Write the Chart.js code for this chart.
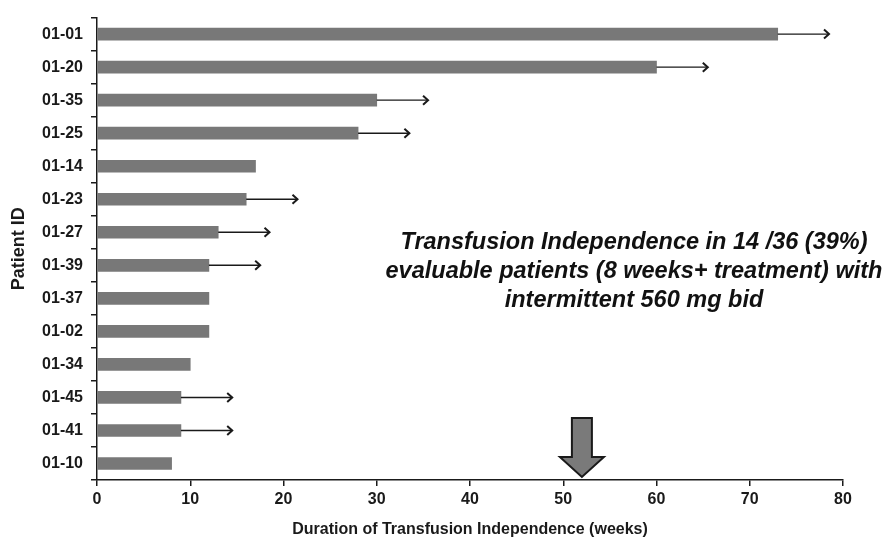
<!DOCTYPE html>
<html lang="en">
<head>
<meta charset="UTF-8">
<title>Transfusion Independence</title>
<script src="https://cdn.jsdelivr.net/npm/chart.js@4.4.0/dist/chart.umd.min.js"></script>
<style>
  html, body { margin: 0; padding: 0; background: #fff; }
  #wrap { width: 885px; height: 538px; }
</style>
</head>
<body>
<div id="wrap"><canvas id="myChart" width="885" height="538"></canvas></div>
<script>
// patients, top to bottom
const patients = ['01-01', '01-20', '01-35', '01-25', '01-14', '01-23', '01-27',
                  '01-39', '01-37', '01-02', '01-34', '01-45', '01-41', '01-10'];
// duration of transfusion independence (weeks)
const durationWeeks = [73, 60, 30, 28, 17, 16, 13, 12, 12, 12, 10, 9, 9, 8];
// ongoing responders: where the arrow ends (null = no arrow)
const ongoingTo = [78.5, 65.5, 35.5, 33.5, null, 21.5, 18.5, 17.5, null, null, null, 14.5, 14.5, null];
const xTicks = [0, 10, 20, 30, 40, 50, 60, 70, 80];
const weekMarker = 52;
const noteLines = ['Transfusion Independence in 14 /36 (39%)',
                   'evaluable patients (8 weeks+ treatment) with',
                   'intermittent 560 mg bid'];

const inkColor = '#1a1a1a';
const barColor = '#787878';
const fontFamily = '"Liberation Sans", Arial, Helvetica, sans-serif';

// petites flèches + grosse flèche + texte
const extrasPlugin = {
    id: 'extras',
    afterDatasetsDraw(chart) {
        const ctx = chart.ctx;
        const x = chart.scales.x;
        const y = chart.scales.y;
        ctx.save();
        ctx.strokeStyle = inkColor;
        ongoingTo.forEach((end, i) => {
            if (end === null) return;
            const yp = y.getPixelForValue(i);
            const x0 = x.getPixelForValue(durationWeeks[i]);
            const x1 = x.getPixelForValue(end);
            ctx.lineWidth = 1.4;
            ctx.beginPath();
            ctx.moveTo(x0, yp);
            ctx.lineTo(x1, yp);
            ctx.stroke();
            ctx.lineWidth = 2;
            ctx.beginPath();
            ctx.moveTo(x1 - 5, yp - 4.5);
            ctx.lineTo(x1, yp);
            ctx.lineTo(x1 - 5, yp + 4.5);
            ctx.stroke();
        });

        // grosse flèche à 52 semaines
        const cx = x.getPixelForValue(weekMarker);
        const bottom = chart.chartArea.bottom - 3;
        ctx.beginPath();
        ctx.moveTo(cx - 10, bottom - 59);
        ctx.lineTo(cx + 10, bottom - 59);
        ctx.lineTo(cx + 10, bottom - 20);
        ctx.lineTo(cx + 22, bottom - 20);
        ctx.lineTo(cx, bottom);
        ctx.lineTo(cx - 22, bottom - 20);
        ctx.lineTo(cx - 10, bottom - 20);
        ctx.closePath();
        ctx.fillStyle = '#7a7a7a';
        ctx.fill();
        ctx.lineWidth = 2;
        ctx.lineJoin = 'miter';
        ctx.strokeStyle = inkColor;
        ctx.stroke();

        // texte
        ctx.fillStyle = '#111';
        ctx.font = 'italic bold 23.5px ' + fontFamily;
        ctx.textAlign = 'center';
        ctx.textBaseline = 'middle';
        const tx = chart.chartArea.left + 537;
        noteLines.forEach((line, k) => {
            ctx.fillText(line, tx, 243 + k * 29);
        });
        ctx.restore();
    }
};

let content = document.querySelector('#myChart').getContext('2d');
let myChart = new Chart(content, {
    type: 'bar',
    data: {
        labels: patients,
        datasets: [{
            label: 'Duration',
            data: durationWeeks,
            backgroundColor: barColor,
            borderWidth: 0,
            barThickness: 12
        }]
    },
    options: {
        indexAxis: 'y',
        responsive: false,
        animation: false,
        layout: { padding: { top: 15, right: 42, left: 0, bottom: 0 } },
        plugins: {
            legend: { display: false },
            tooltip: { enabled: false }
        },
        scales: {
            x: {
                min: 0,
                max: 80,
                afterBuildTicks: scale => { scale.ticks = xTicks.map(v => ({ value: v })); },
                afterFit: scale => { scale.height = 58; },
                border: { display: true, color: inkColor, width: 1.5 },
                grid: { display: true, drawOnChartArea: false, drawTicks: true, tickLength: 6, color: inkColor, lineWidth: 1.5 },
                ticks: { color: inkColor, padding: 4, font: { family: fontFamily, size: 16, weight: 'bold' } },
                title: {
                    display: true,
                    text: 'Duration of Transfusion Independence (weeks)',
                    color: inkColor,
                    padding: { top: 12, bottom: 0 },
                    font: { family: fontFamily, size: 16, weight: 'bold', lineHeight: 1 }
                }
            },
            y: {
                offset: true,
                afterFit: scale => { scale.width = 97; },
                border: { display: true, color: inkColor, width: 1.5 },
                grid: { display: true, offset: true, drawOnChartArea: false, drawTicks: true, tickLength: 6, color: inkColor, lineWidth: 1.5 },
                ticks: { color: inkColor, padding: 8, font: { family: fontFamily, size: 16, weight: 'bold' } },
                title: {
                    display: true,
                    text: 'Patient ID',
                    color: inkColor,
                    padding: { top: 8, bottom: 4 },
                    font: { family: fontFamily, size: 18, weight: 'bold' }
                }
            }
        }
    },
    plugins: [extrasPlugin]
});
</script>
</body>
</html>
